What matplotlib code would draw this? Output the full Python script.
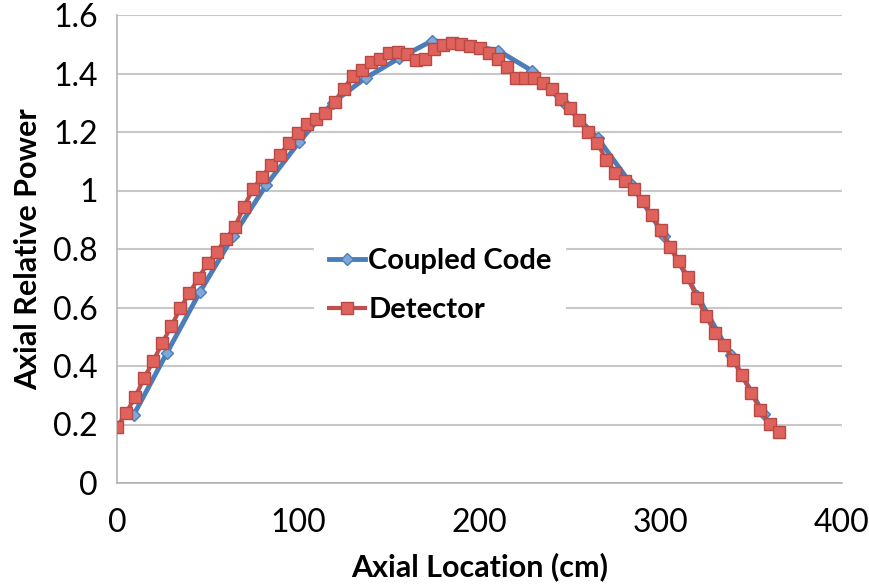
import matplotlib.pyplot as plt
import numpy as np

# axial positions (cm)
det_x = np.arange(0, 366, 5)
code_x = 9.15 + 18.3 * np.arange(20)

detector = [0.191, 0.239, 0.294, 0.359, 0.417, 0.479, 0.537, 0.598, 0.650, 0.701,
            0.752, 0.790, 0.834, 0.875, 0.944, 1.005, 1.046, 1.087, 1.123, 1.163,
            1.198, 1.227, 1.243, 1.266, 1.304, 1.347, 1.391, 1.412, 1.438, 1.450,
            1.471, 1.474, 1.467, 1.446, 1.449, 1.483, 1.499, 1.504, 1.501, 1.494,
            1.488, 1.469, 1.450, 1.421, 1.386, 1.383, 1.383, 1.369, 1.346, 1.312,
            1.281, 1.241, 1.200, 1.161, 1.105, 1.060, 1.033, 1.004, 0.965, 0.916,
            0.865, 0.808, 0.758, 0.703, 0.633, 0.570, 0.512, 0.472, 0.421, 0.369,
            0.307, 0.250, 0.202, 0.175]

coupled = [0.232, 0.444, 0.653, 0.844, 1.019, 1.167, 1.300, 1.385, 1.452, 1.512,
           1.500, 1.478, 1.410, 1.295, 1.178, 1.022, 0.845, 0.640, 0.438, 0.235]

xticks = [0, 100, 200, 300, 400]
yticks = [0, 0.2, 0.4, 0.6, 0.8, 1, 1.2, 1.4, 1.6]
ytick_labels = ['0', '0.2', '0.4', '0.6', '0.8', '1', '1.2', '1.4', '1.6']

plt.rcParams['font.family'] = ['Lato', 'DejaVu Sans']

fig = plt.figure(figsize=(8.7, 5.86), dpi=100)
ax = fig.add_axes([117/870, 1-483/586, 725/870, 468/586])

ax.plot(code_x, coupled, '-D', color='#4A7EBB', lw=3.5, ms=6,
        mfc='#7FA7D8', mec='#4A7EBB', mew=1, label='Coupled Code', zorder=3)
ax.plot(det_x, detector, '-s', color='#C0504D', lw=3, ms=8.5,
        mfc='#E0625C', mec='#B84A46', mew=1, label='Detector', zorder=4)

ax.set_xlim(0, 400)
ax.set_ylim(0, 1.6)
ax.set_xticks(xticks)
ax.set_yticks(yticks)
ax.set_yticklabels(ytick_labels)
ax.tick_params(axis='both', length=0, labelsize=23)
ax.tick_params(axis='x', pad=18)
ax.tick_params(axis='y', pad=14)

ax.grid(axis='y', color='#C8C8C8', lw=1.5)
ax.set_axisbelow(True)
for s in ['top', 'right']:
    ax.spines[s].set_visible(False)
for s in ['left', 'bottom']:
    ax.spines[s].set_color('#B4B4B4')
    ax.spines[s].set_linewidth(1.2)

ax.set_xlabel('Axial Location (cm)', fontsize=22, fontweight='bold', labelpad=10)
ax.set_ylabel('Axial Relative Power', fontsize=22, fontweight='bold', labelpad=8)

leg = ax.legend(loc='center', bbox_to_anchor=(0.446, 0.422), frameon=True,
                prop={'size': 21, 'weight': 'bold'}, handlelength=1.25,
                handletextpad=0.1, labelspacing=0.8, borderpad=0.5)
leg.get_frame().set_edgecolor('none')
leg.get_frame().set_facecolor('white')
leg.get_frame().set_alpha(1)

plt.savefig('out.png', dpi=100)
